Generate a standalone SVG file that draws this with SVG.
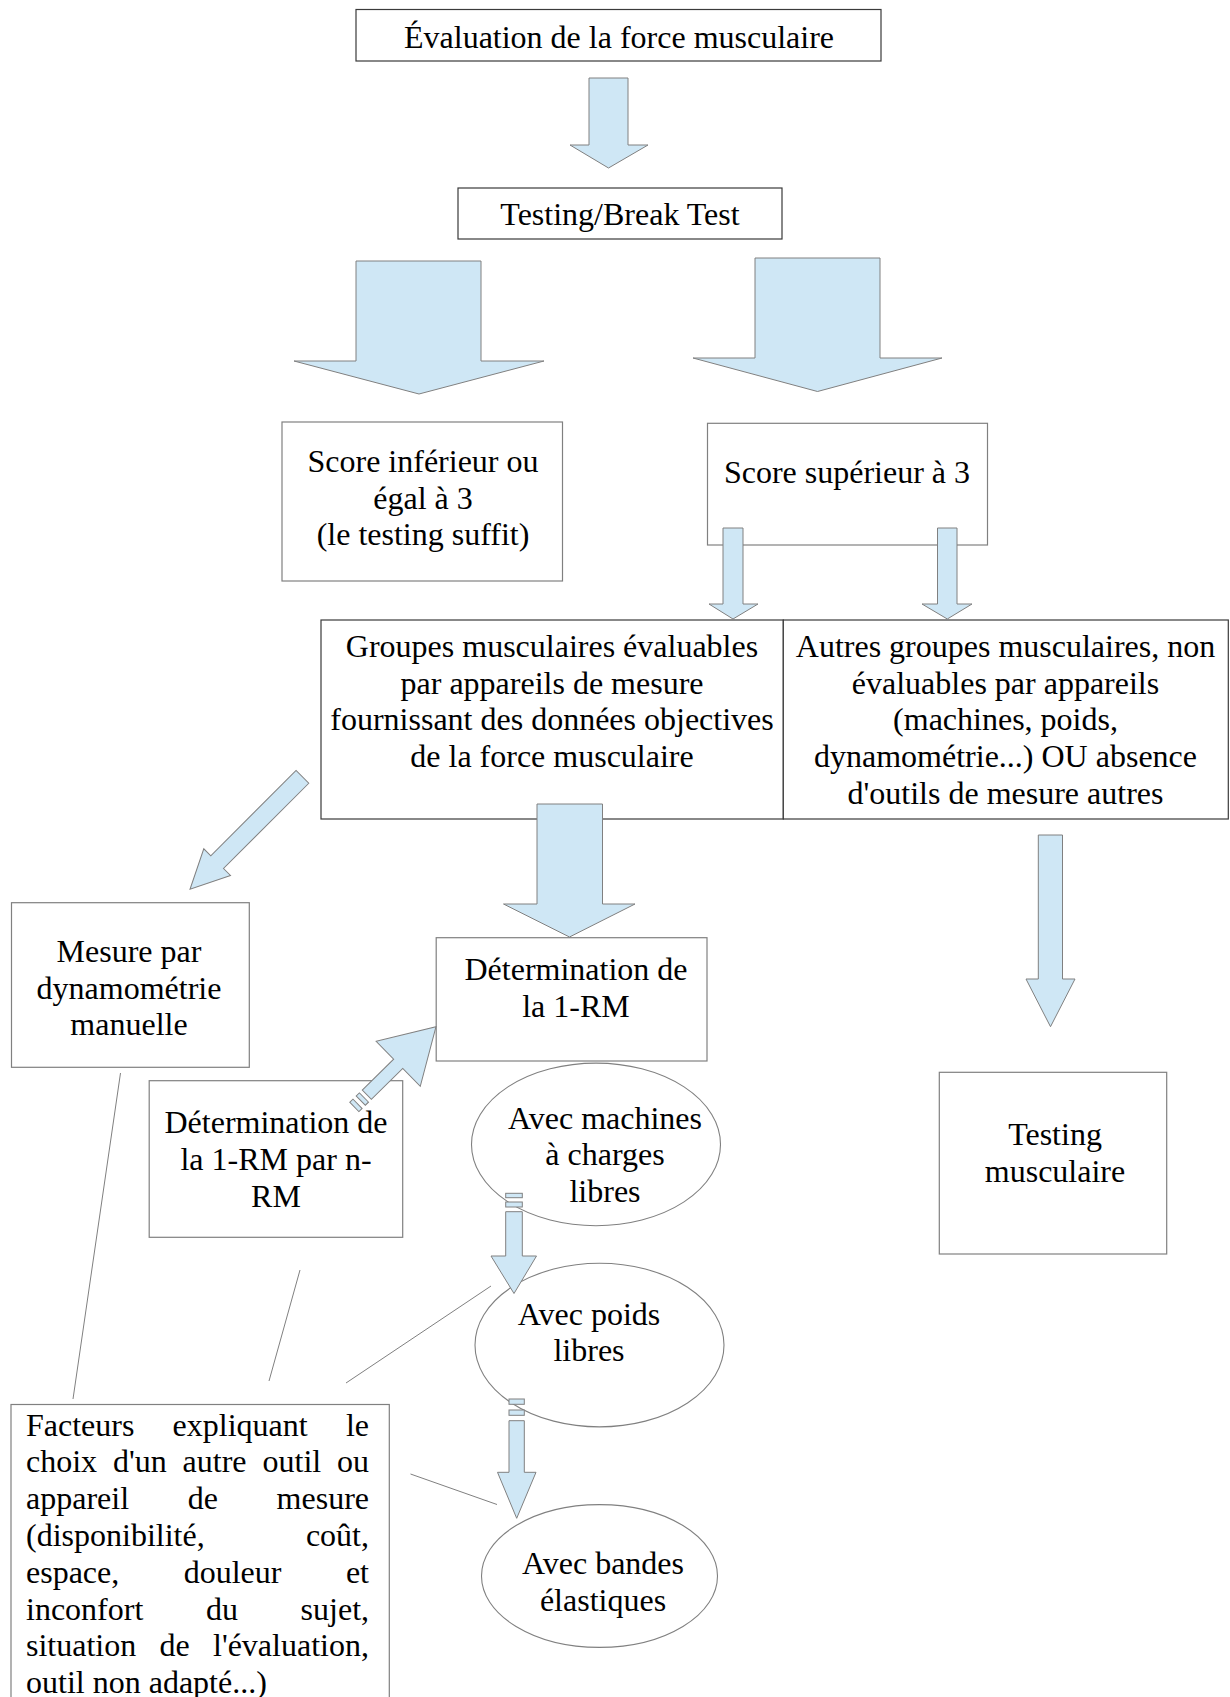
<svg xmlns="http://www.w3.org/2000/svg" width="1230" height="1697" viewBox="0 0 1230 1697">
<style>
.box{fill:#fff;stroke:#808080;stroke-width:1.2}
.dk{stroke:#3a3a3a}
.ell{fill:#fff;stroke:#808080;stroke-width:1.1}
.arr{fill:#cfe7f5;stroke:#808080;stroke-width:1}
.ln{fill:none;stroke:#808080;stroke-width:1}
.t{font-family:"Liberation Serif","Times New Roman",serif;font-size:32px;fill:#000}
.c{text-anchor:middle}
</style>
<rect width="1230" height="1697" fill="#fff"/>
<g id="n-evaluation">
<rect class="box dk" x="356" y="9.5" width="525" height="51.5"/>
<text class="t c" x="619" y="47.5">Évaluation de la force musculaire</text>
</g>
<g id="n-testing-break">
<rect class="box dk" x="458" y="188" width="324" height="51"/>
<text class="t c" x="620" y="225">Testing/Break Test</text>
</g>
<g id="n-score-inf">
<rect class="box" x="282" y="422" width="280.5" height="159"/>
<text class="t c" x="423" y="472"><tspan x="423">Score inférieur ou</tspan><tspan x="423" y="508.5">égal à 3</tspan><tspan x="423" y="545">(le testing suffit)</tspan></text>
</g>
<g id="n-score-sup">
<rect class="box" x="707.5" y="423.3" width="280" height="121.7"/>
<text class="t c" x="847" y="483">Score supérieur à 3</text>
</g>
<g id="n-groupes-evaluables">
<rect class="box dk" x="321" y="620" width="462.3" height="199"/>
<text class="t c" x="552" y="656.7"><tspan x="552">Groupes musculaires évaluables</tspan><tspan x="552" y="693.5">par appareils de mesure</tspan><tspan x="552" y="730.3">fournissant des données objectives</tspan><tspan x="552" y="767.1">de la force musculaire</tspan></text>
</g>
<g id="n-autres-groupes">
<rect class="box dk" x="783.3" y="620" width="445" height="199"/>
<text class="t c" x="1005.5" y="656.7"><tspan x="1005.5">Autres groupes musculaires, non</tspan><tspan x="1005.5" y="693.5">évaluables par appareils</tspan><tspan x="1005.5" y="730.3">(machines, poids,</tspan><tspan x="1005.5" y="767.1">dynamométrie...) OU absence</tspan><tspan x="1005.5" y="803.9">d'outils de mesure autres</tspan></text>
</g>
<g id="n-mesure-dyn">
<rect class="box" x="11.5" y="902.7" width="237.8" height="164.6"/>
<text class="t c" x="129" y="961.7"><tspan x="129">Mesure par</tspan><tspan x="129" y="998.5">dynamométrie</tspan><tspan x="129" y="1035.3">manuelle</tspan></text>
</g>
<g id="n-1rm">
<rect class="box" x="436.2" y="937.7" width="270.8" height="123.3"/>
<text class="t c" x="576" y="980"><tspan x="576">Détermination de</tspan><tspan x="576" y="1016.8">la 1-RM</tspan></text>
</g>
<g id="n-nrm">
<rect class="box" x="149.2" y="1080.7" width="253.5" height="156.6"/>
<text class="t c" x="276" y="1133.3"><tspan x="276">Détermination de</tspan><tspan x="276" y="1170.1">la 1-RM par n-</tspan><tspan x="276" y="1206.9">RM</tspan></text>
</g>
<g id="n-testing-musc">
<rect class="box" x="939.3" y="1072.3" width="227.4" height="181.7"/>
<text class="t c" x="1055" y="1145"><tspan x="1055">Testing</tspan><tspan x="1055" y="1181.8">musculaire</tspan></text>
</g>
<g id="n-machines">
<ellipse class="ell" cx="596" cy="1144.4" rx="124.5" ry="81.3"/>
<text class="t c" x="605" y="1128.5"><tspan x="605">Avec machines</tspan><tspan x="605" y="1165.3">à charges</tspan><tspan x="605" y="1202.1">libres</tspan></text>
</g>
<g id="n-poids">
<ellipse class="ell" cx="599.5" cy="1345.1" rx="124.5" ry="81.8"/>
<text class="t c" x="589" y="1324.5"><tspan x="589">Avec poids</tspan><tspan x="589" y="1361.3">libres</tspan></text>
</g>
<g id="n-bandes">
<ellipse class="ell" cx="599.5" cy="1576" rx="118" ry="71.4"/>
<text class="t c" x="603" y="1574"><tspan x="603">Avec bandes</tspan><tspan x="603" y="1610.8">élastiques</tspan></text>
</g>
<g id="n-facteurs">
<rect class="box" x="11" y="1404.5" width="378.3" height="310"/>
<text class="t" y="1435.5"><tspan x="26">Facteurs</tspan><tspan x="172.6">expliquant</tspan><tspan x="345.9">le</tspan></text>
<text class="t" y="1472.3"><tspan x="26">choix</tspan><tspan x="113">d'un</tspan><tspan x="182.6">autre</tspan><tspan x="262.5">outil</tspan><tspan x="337">ou</tspan></text>
<text class="t" y="1509.1"><tspan x="26">appareil</tspan><tspan x="187.8">de</tspan><tspan x="276.6">mesure</tspan></text>
<text class="t" y="1545.9"><tspan x="26">(disponibilité,</tspan><tspan x="305.9">coût,</tspan></text>
<text class="t" y="1582.7"><tspan x="26">espace,</tspan><tspan x="183.7">douleur</tspan><tspan x="345.9">et</tspan></text>
<text class="t" y="1619.5"><tspan x="26">inconfort</tspan><tspan x="206">du</tspan><tspan x="300.6">sujet,</tspan></text>
<text class="t" y="1656.3"><tspan x="26">situation</tspan><tspan x="159.5">de</tspan><tspan x="213">l'évaluation,</tspan></text>
<text class="t" x="26" y="1693.1">outil non adapté...)</text>
</g>
<g id="connectors">
<polygon class="arr" points="589,78 628,78 628,145 648,145 608.5,168 570,145 589,145"/>
<polygon class="arr" points="356,261 481,261 481,361 544,361 419,394 294,361 356,361"/>
<polygon class="arr" points="755,258 880,258 880,358 942,358 817.5,391.5 693,358 755,358"/>
<polygon class="arr" points="723,528 743,528 743,604 758,604 733,619 709,604 723,604"/>
<polygon class="arr" points="937.5,528 957,528 957,604 972,604 947.3,619 922,604 937.5,604"/>
<polygon class="arr" points="537,804 602.5,804 602.5,904 635,904 569.5,937 503.5,904 537,904"/>
<polygon class="arr" points="1038.3,835 1062.5,835 1062.5,979 1075,979 1050.5,1026.7 1026,979 1038.3,979"/>
<polygon class="arr" transform="translate(190,889.3) rotate(135)" points="-159,-9 -38.4,-9 -38.4,-18.9 0,0 -38.4,18.9 -38.4,9 -159,9"/>
<g transform="translate(436,1026.7) rotate(-44.5)">
<polygon class="arr" points="-97,-6.5 -53,-6.5 -53,-31.5 0,0 -53,31.5 -53,6.5 -97,6.5"/>
<rect class="arr" x="-105.5" y="-6.5" width="4.5" height="13"/>
<rect class="arr" x="-114.5" y="-6.5" width="4.5" height="13"/>
</g>
<rect class="arr" x="505.7" y="1193.3" width="16.6" height="4.4"/>
<rect class="arr" x="505.7" y="1202" width="16.6" height="5"/>
<polygon class="arr" points="505.7,1211.7 522.3,1211.7 522.3,1256 536.5,1256 514,1293.5 491,1256 505.7,1256"/>
<rect class="arr" x="509" y="1399" width="15.3" height="5.3"/>
<rect class="arr" x="509" y="1410" width="15.3" height="5.3"/>
<polygon class="arr" points="509,1420.7 524.3,1420.7 524.3,1472.3 536,1472.3 516.7,1518.3 497.5,1472.3 509,1472.3"/>
<line class="ln" x1="120.5" y1="1073" x2="73" y2="1399"/>
<line class="ln" x1="300" y1="1270" x2="269" y2="1381"/>
<line class="ln" x1="491" y1="1286" x2="346" y2="1383"/>
<line class="ln" x1="410.5" y1="1474" x2="497" y2="1504.5"/>
</g>
</svg>
